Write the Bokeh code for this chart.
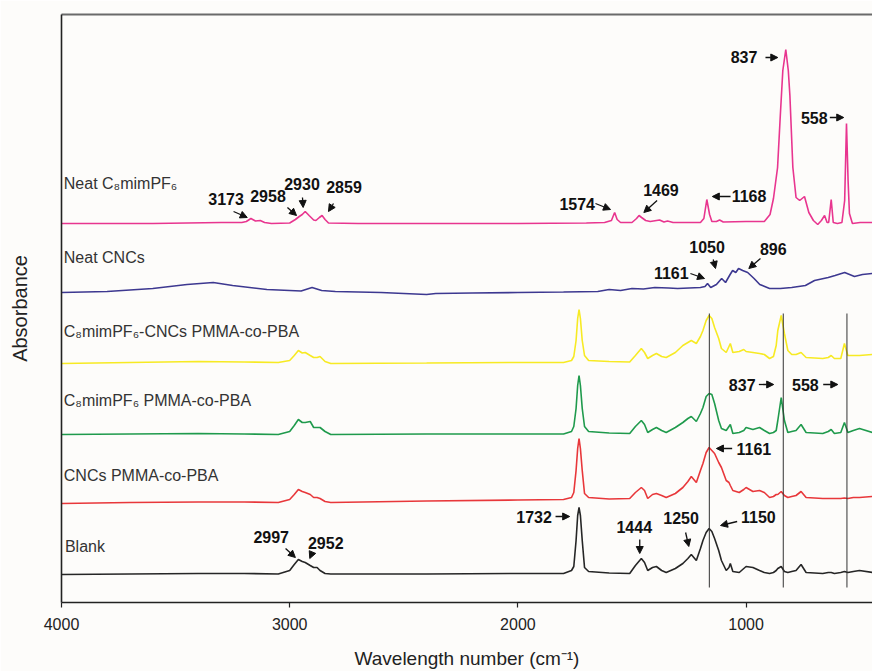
from bokeh.plotting import figure
from bokeh.models import (Range1d, LinearAxis, FixedTicker, Arrow, NormalHead,
                          ColumnDataSource)
from bokeh.core.properties import value
from bokeh.embed import file_html
from bokeh.resources import INLINE

# ---------------- data (wavenumber, stacked absorbance in a.u.) ----------------
wn_il = [4000, 3600, 3300, 3210, 3190, 3170, 3150, 3129, 3110, 3080, 3000, 2975, 2958, 2945,
         2932, 2915, 2895, 2885, 2870, 2858, 2845, 2830, 2700, 2400, 2000, 1700, 1620, 1590,
         1576, 1565, 1550, 1500, 1480, 1469, 1458, 1440, 1420, 1379, 1360, 1344, 1320, 1200,
         1185, 1172, 1160, 1150, 1130, 1116, 1100, 1000, 920, 895, 880, 862, 850, 839, 826,
         815, 808, 795, 781, 765, 744, 725, 705, 686, 670, 656, 645, 638, 627, 618, 600, 580,
         568, 560, 553, 547, 534, 500, 460, 440]
ab_il = [3.79, 3.79, 3.80, 3.80, 3.81, 3.84, 3.815, 3.82, 3.80, 3.79, 3.795, 3.83, 3.86, 3.88,
         3.91, 3.87, 3.825, 3.82, 3.85, 3.87, 3.83, 3.795, 3.79, 3.79, 3.79, 3.795, 3.80, 3.82,
         3.90, 3.83, 3.80, 3.80, 3.84, 3.87, 3.85, 3.82, 3.81, 3.825, 3.805, 3.815, 3.80, 3.80,
         3.84, 4.03, 3.88, 3.81, 3.81, 3.825, 3.805, 3.81, 3.81, 3.88, 4.04, 4.35, 4.87, 5.32,
         5.53, 5.32, 5.07, 4.35, 4.05, 4.02, 4.06, 3.90, 3.82, 3.78, 3.82, 3.87, 3.80, 3.80,
         4.03, 3.80, 3.79, 3.80, 4.02, 4.79, 4.22, 3.89, 3.79, 3.80, 3.80, 3.80]

wn_cnc = [4000, 3800, 3600, 3450, 3335, 3250, 3100, 2950, 2902, 2860, 2800, 2600, 2400, 2360,
          2200, 2000, 1800, 1650, 1600, 1550, 1500, 1450, 1400, 1340, 1300, 1250, 1200, 1180,
          1169, 1155, 1130, 1107, 1090, 1070, 1059, 1045, 1033, 1015, 993, 965, 940, 897, 850,
          800, 740, 700, 640, 610, 568, 525, 490, 446]
ab_cnc = [3.10, 3.11, 3.14, 3.18, 3.20, 3.17, 3.13, 3.115, 3.15, 3.12, 3.11, 3.10, 3.08, 3.09,
          3.095, 3.10, 3.105, 3.11, 3.13, 3.12, 3.14, 3.135, 3.15, 3.145, 3.14, 3.145, 3.15, 3.16,
          3.19, 3.15, 3.18, 3.24, 3.20, 3.28, 3.32, 3.30, 3.34, 3.32, 3.30, 3.24, 3.18, 3.14, 3.14,
          3.15, 3.17, 3.22, 3.25, 3.27, 3.30, 3.26, 3.28, 3.29]

wn_poly = [4000, 3700, 3400, 3200, 3050, 3000, 2980, 2962, 2945, 2932, 2910, 2895, 2880, 2867,
           2845, 2820, 2400, 2000, 1800, 1765, 1755, 1745, 1738, 1732, 1726, 1718, 1708, 1690,
           1600, 1510, 1485, 1459, 1445, 1431, 1410, 1393, 1370, 1350, 1310, 1277, 1255, 1240,
           1218, 1200, 1189, 1175, 1162, 1150, 1138, 1120, 1108, 1087, 1075, 1069, 1058, 1030,
           1010, 1000, 970, 941, 920, 897, 880, 868, 861, 846, 832, 817, 800, 781, 759, 737,
           700, 664, 640, 627, 613, 585, 569, 554, 530, 503, 446]

ab_ilcnc = [2.39, 2.40, 2.41, 2.405, 2.40, 2.42, 2.47, 2.52, 2.495, 2.50, 2.47, 2.45, 2.45, 2.46,
            2.41, 2.39, 2.395, 2.40, 2.40, 2.42, 2.46, 2.62, 2.84, 2.93, 2.84, 2.62, 2.47, 2.42,
            2.41, 2.405, 2.47, 2.54, 2.50, 2.44, 2.47, 2.49, 2.46, 2.45, 2.50, 2.57, 2.60, 2.62,
            2.59, 2.66, 2.72, 2.82, 2.87, 2.84, 2.75, 2.64, 2.54, 2.50, 2.56, 2.59, 2.50, 2.51,
            2.53, 2.51, 2.50, 2.49, 2.48, 2.44, 2.46, 2.57, 2.72, 2.87, 2.69, 2.52, 2.48, 2.48,
            2.50, 2.45, 2.445, 2.44, 2.45, 2.47, 2.44, 2.44, 2.59, 2.47, 2.47, 2.47, 2.48]

ab_il_poly = [1.68, 1.685, 1.69, 1.685, 1.68, 1.71, 1.77, 1.83, 1.80, 1.80, 1.81, 1.75, 1.75,
              1.75, 1.71, 1.68, 1.685, 1.685, 1.685, 1.71, 1.76, 1.94, 2.17, 2.27, 2.17, 1.94,
              1.76, 1.71, 1.695, 1.69, 1.76, 1.82, 1.78, 1.70, 1.73, 1.75, 1.72, 1.70, 1.75, 1.80,
              1.84, 1.86, 1.81, 1.89, 1.95, 2.06, 2.09, 2.08, 1.99, 1.82, 1.74, 1.72, 1.76, 1.78,
              1.69, 1.70, 1.72, 1.75, 1.73, 1.75, 1.72, 1.69, 1.70, 1.72, 1.82, 2.05, 1.82, 1.70,
              1.71, 1.72, 1.78, 1.70, 1.695, 1.69, 1.71, 1.73, 1.69, 1.70, 1.80, 1.70, 1.72, 1.74,
              1.70]

ab_cnc_poly = [0.99, 1.00, 1.005, 1.005, 1.00, 1.03, 1.08, 1.13, 1.11, 1.10, 1.08, 1.05, 1.05,
               1.04, 1.01, 1.00, 1.015, 1.025, 1.03, 1.05, 1.10, 1.32, 1.54, 1.64, 1.54, 1.32,
               1.09, 1.05, 1.035, 1.04, 1.10, 1.15, 1.12, 1.04, 1.08, 1.09, 1.07, 1.05, 1.09, 1.15,
               1.21, 1.26, 1.20, 1.32, 1.39, 1.50, 1.55, 1.52, 1.49, 1.40, 1.35, 1.22, 1.20, 1.17,
               1.12, 1.10, 1.13, 1.15, 1.11, 1.12, 1.10, 1.05, 1.06, 1.08, 1.08, 1.11, 1.07, 1.05,
               1.06, 1.07, 1.11, 1.05, 1.045, 1.04, 1.04, 1.04, 1.04, 1.04, 1.045, 1.04, 1.05,
               1.05, 1.06]

ab_blank = [0.28, 0.285, 0.29, 0.29, 0.285, 0.32, 0.38, 0.43, 0.41, 0.40, 0.37, 0.35, 0.35,
            0.32, 0.29, 0.285, 0.285, 0.29, 0.29, 0.32, 0.36, 0.62, 0.87, 0.95, 0.87, 0.62,
            0.35, 0.31, 0.295, 0.29, 0.37, 0.44, 0.40, 0.32, 0.35, 0.36, 0.32, 0.30, 0.34, 0.39,
            0.44, 0.48, 0.42, 0.54, 0.62, 0.70, 0.74, 0.71, 0.64, 0.52, 0.42, 0.32, 0.35, 0.39,
            0.31, 0.30, 0.34, 0.36, 0.35, 0.32, 0.30, 0.29, 0.30, 0.32, 0.34, 0.36, 0.31, 0.30,
            0.31, 0.32, 0.38, 0.30, 0.295, 0.29, 0.30, 0.30, 0.29, 0.30, 0.31, 0.30, 0.31, 0.32,
            0.30]

series_names = ["Neat C\u2088mimPF\u2086", "Neat CNCs", "C\u2088mimPF\u2086-CNCs PMMA-co-PBA",
                "C\u2088mimPF\u2086 PMMA-co-PBA", "CNCs PMMA-co-PBA", "Blank"]
series_wn = [wn_il, wn_cnc, wn_poly, wn_poly, wn_poly, wn_poly]
series_ab = [ab_il, ab_cnc, ab_ilcnc, ab_il_poly, ab_cnc_poly, ab_blank]
series_colors = ["#e8358f", "#3d3890", "#f7ea23", "#1f9a4c", "#e8373a", "#262626"]
name_x = [3990, 3990, 3990, 3990, 3990, 3985]
name_y = [4.19, 3.45, 2.71, 2.02, 1.27, 0.56]

# reference lines (cm-1)
ref_lines = [1161, 837, 558]
ref_top = 2.89
ref_bottom = 0.15

# peak annotations: label, text x, text y, arrow x0, y0, x1, y1
ann_label = ["3173", "2958", "2930", "2859", "1574", "1469", "1168", "837", "558",
             "1161", "1050", "896",
             "837", "558",
             "1161",
             "1732", "1444", "1250", "1150", "2997", "2952"]
ann_x = [3279, 3095, 2946, 2762, 1740, 1373, 987, 1009, 701,
         1328, 1171, 881,
         1017, 740,
         966,
         1929, 1490, 1285, 946, 3081, 2842]
ann_y = [4.04, 4.07, 4.19, 4.16, 3.99, 4.13, 4.07, 5.46, 4.85,
         3.30, 3.56, 3.54,
         2.18, 2.18,
         1.54,
         0.86, 0.76, 0.85, 0.86, 0.66, 0.60]
arr_x0 = [3246, 3010, 2944, 2808, 1660, 1390, 1068, 915, 633,
          1244, 1144, 937,
          944, 662,
          1061,
          1835, 1466, 1265, 1039, 3018, 2901]
arr_y0 = [3.91, 3.95, 4.05, 3.99, 3.99, 4.02, 4.06, 5.45, 4.85,
          3.29, 3.43, 3.44,
          2.18, 2.18,
          1.54,
          0.86, 0.63, 0.70, 0.81, 0.54, 0.50]
arr_x1 = [3186, 2970, 2941, 2830, 1594, 1448, 1148, 861, 572,
          1182, 1134, 988,
          879, 598,
          1130,
          1773, 1466, 1251, 1112, 2975, 2912]
arr_y1 = [3.85, 3.87, 3.95, 3.91, 3.93, 3.90, 4.06, 5.45, 4.85,
          3.24, 3.34, 3.34,
          2.18, 2.18,
          1.54,
          0.86, 0.49, 0.56, 0.77, 0.45, 0.44]

x_ticks = [4000, 3000, 2000, 1000]

# ---------------- figure ----------------
BG = "#fdfcfa"
FONT = "Liberation Sans"

p = figure(width=872, height=671, output_backend="svg", toolbar_location=None,
           x_range=Range1d(4000, 446), y_range=Range1d(0, 5.88),
           min_border_left=61, min_border_right=0, min_border_top=14, min_border_bottom=69,
           background_fill_color=BG, border_fill_color=BG, outline_line_color=None,
           x_axis_location="below")
p.grid.visible = False

xa = p.xaxis[0]
xa.ticker = FixedTicker(ticks=x_ticks)
xa.major_tick_out = 5
xa.major_tick_in = 0
xa.minor_tick_line_color = None
xa.major_tick_line_color = "#222222"
xa.major_tick_line_width = 1.2
xa.axis_line_color = "#222222"
xa.axis_line_width = 1.6
xa.major_label_text_font = FONT
xa.major_label_text_font_size = "16px"
xa.major_label_text_color = "#222222"
xa.major_label_standoff = 10
xa.axis_label = "Wavelength number (cm\u207b\u00b9)"
xa.axis_label_text_font = FONT
xa.axis_label_text_font_style = "normal"
xa.axis_label_text_font_size = "19px"
xa.axis_label_text_color = "#222222"
xa.axis_label_standoff = 15

ya = p.yaxis[0]
ya.ticker = FixedTicker(ticks=[])
ya.major_tick_line_color = None
ya.minor_tick_line_color = None
ya.axis_line_color = "#222222"
ya.axis_line_width = 1.6
ya.axis_label = "Absorbance"
ya.axis_label_text_font = FONT
ya.axis_label_text_font_style = "normal"
ya.axis_label_text_font_size = "20px"
ya.axis_label_text_color = "#222222"
ya.axis_label_standoff = 31

top_axis = LinearAxis(ticker=FixedTicker(ticks=[]), major_tick_line_color=None,
                      minor_tick_line_color=None, major_label_standoff=0,
                      axis_line_color="#6a6a6a", axis_line_width=2)
p.add_layout(top_axis, "above")

for wn, ab, col in zip(series_wn, series_ab, series_colors):
    p.line(wn, ab, line_color=col, line_width=1.6)

p.segment(x0=ref_lines, x1=ref_lines, y0=[ref_top] * 3, y1=[ref_bottom] * 3,
          line_color="#333333", line_width=1)

p.text(x=name_x, y=name_y, text=series_names, text_font=value(FONT),
       text_font_size="16px", text_color="#333333", text_align="left",
       text_baseline="middle")

p.text(x=ann_x, y=ann_y, text=ann_label, text_font=value(FONT), text_font_style="bold",
       text_font_size="16px", text_color="#111111", text_align="center",
       text_baseline="middle")

src = ColumnDataSource(dict(x0=arr_x0, y0=arr_y0, x1=arr_x1, y1=arr_y1))
p.add_layout(Arrow(end=NormalHead(size=7, fill_color="#111111", line_color="#111111"),
                   x_start="x0", y_start="y0", x_end="x1", y_end="y1", source=src,
                   line_color="#111111", line_width=1.3))

open("out.html", "w").write(file_html(p, INLINE))
